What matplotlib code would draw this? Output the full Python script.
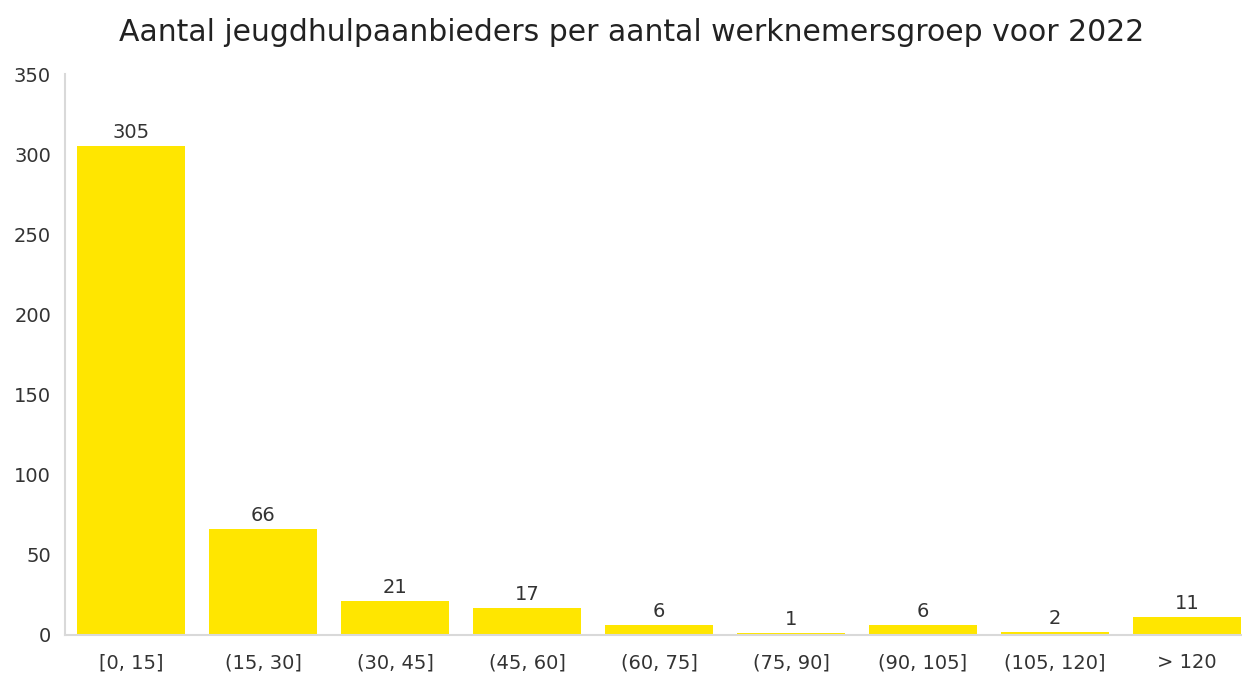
import matplotlib.pyplot as plt
import numpy as np

categories = ["[0, 15]", "(15, 30]", "(30, 45]", "(45, 60]", "(60, 75]",
              "(75, 90]", "(90, 105]", "(105, 120]", "> 120"]
counts = [305, 66, 21, 17, 6, 1, 6, 2, 11]
yticks = [0, 50, 100, 150, 200, 250, 300, 350]

plt.rcParams["font.family"] = "DejaVu Sans"
text_color = "#333333"

fig = plt.figure(figsize=(12.42, 6.75), dpi=100)
ax = fig.add_axes([65 / 1242, 40 / 675, 1188 / 1242, 561 / 675])

x = np.arange(len(categories))
bars = ax.bar(x, counts, width=0.82, color="#FFE600")
ax.bar_label(bars, labels=[str(c) for c in counts], padding=3,
             fontsize=14, color=text_color)

ax.set_xlim(-0.5, len(categories) - 0.5)
ax.set_ylim(0, 350)
ax.set_yticks(yticks)
ax.set_xticks(x, categories)
ax.tick_params(axis="both", length=0, labelsize=14, labelcolor=text_color)
ax.tick_params(axis="x", pad=13)
ax.tick_params(axis="y", pad=10)

for side in ("top", "right"):
    ax.spines[side].set_visible(False)
for side in ("left", "bottom"):
    ax.spines[side].set_color("#d9d9d9")
    ax.spines[side].set_linewidth(1.5)

fig.text(0.5085, 0.952, "Aantal jeugdhulpaanbieders per aantal werknemersgroep voor 2022",
         ha="center", va="center", fontsize=21.5, color="#222222")

fig.savefig("out.png", dpi=100)
